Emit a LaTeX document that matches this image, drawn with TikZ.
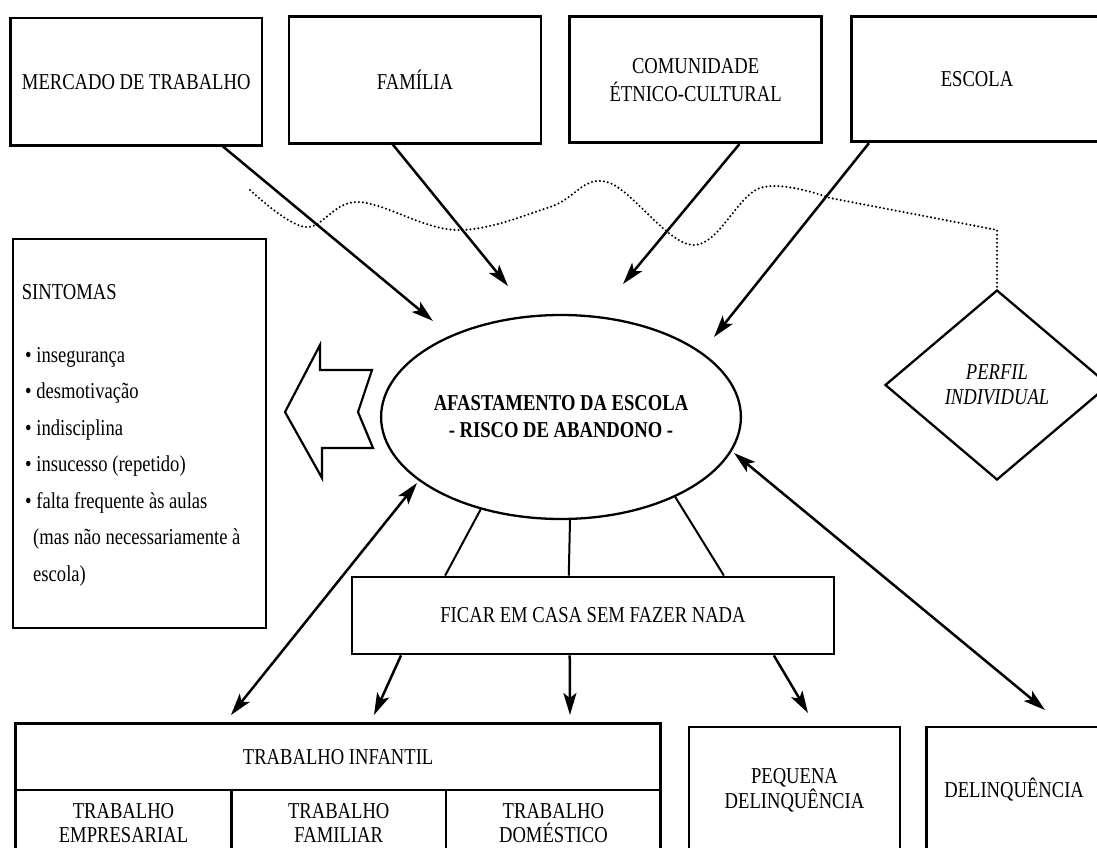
\documentclass[tikz,border=0pt]{standalone}
\usepackage{fontspec}
\setmainfont[FakeStretch=0.82]{Liberation Serif}
\usetikzlibrary{shapes.geometric,arrows.meta,calc}
\newcommand\diafont{\fontsize{22.7}{26}\selectfont}
\begin{document}
\begin{tikzpicture}[x=1pt,y=-1pt,
  box/.style={draw, line width=2.8pt, inner sep=0pt, align=center, font=\diafont},
  arr/.style={line width=2.5pt, -{Stealth[length=22pt,width=13pt,inset=5pt]}},
  darr/.style={line width=2.5pt, {Stealth[length=22pt,width=13pt,inset=5pt]}-{Stealth[length=22pt,width=13pt,inset=5pt]}},
  plainline/.style={line width=2pt},
  item/.style={anchor=base west, inner sep=0pt, font=\diafont},
  dots/.style={line width=2.3pt, line cap=round, dash pattern=on 0pt off 4pt}
]
\useasboundingbox (0,0) rectangle (1097,848);
\fill[white] (0,0) rectangle (1097,848);
\clip (0,0) rectangle (1097,848);

% top boxes
\node[box, minimum width=251.5pt, minimum height=127pt] (merc) at (136.25,81.6) {MERCADO DE TRABALHO};
\node[box, minimum width=252pt, minimum height=126.5pt] (fam) at (415,79.9) {FAMÍLIA};
\node[box, minimum width=252pt, minimum height=126pt, font=\fontsize{22.7}{28}\selectfont] (com) at (695.6,79.7) {COMUNIDADE\\ÉTNICO-CULTURAL};
\node[box, minimum width=251pt, minimum height=125pt] (esc) at (977,79.3) {ESCOLA};

% central ellipse
\node[ellipse, draw, line width=2.3pt, minimum width=337pt, minimum height=204pt, inner sep=0pt,
      align=center, font=\fontsize{22.7}{27}\selectfont\bfseries] (ell) at (561,417)
      {AFASTAMENTO DA ESCOLA\\- RISCO DE ABANDONO -};

% diamond
\node[diamond, draw, line width=2.3pt, minimum width=224pt, minimum height=190pt, inner sep=0pt,
      align=center, font=\fontsize{22.7}{25}\selectfont\itshape] (perf) at (997,385) {PERFIL\\INDIVIDUAL};

% dotted line
\coordinate (dotc) at (997,230);
\draw[dots] plot[smooth, tension=0.6] coordinates {(250,190) (305,227) (358,202) (456,230) (550,207) (607,182) (693,245) (760,188) (830,198)} -- (dotc) -- (perf.north);

% arrows from top boxes
\coordinate (tm) at (433,321);
\coordinate (tf) at (508,286);
\coordinate (tc) at (623,284);
\coordinate (te) at (714,337);
\draw[arr] ($(merc.south west)!0.841!(merc.south east)$) -- (tm);
\draw[arr] ($(fam.south west)!0.413!(fam.south east)$) -- (tf);
\draw[arr] ($(com.south west)!0.672!(com.south east)$) -- (tc);
\draw[arr] ($(esc.south west)!0.074!(esc.south east)$) -- (te);

% sintomas
\node[box, minimum width=253pt, minimum height=389pt] (sint) at (139.5,433.5) {};
\node[item] (s0) at (21.7,299) {SINTOMAS};
\node[item] (s1) at (25,362) {•~insegurança};
\node[item] (s2) at (25,398.5) {•~desmotivação};
\node[item] (s3) at (25,435) {•~indisciplina};
\node[item] (s4) at (25,471.5) {•~insucesso (repetido)};
\node[item] (s5) at (25,508) {•~falta frequente às aulas};
\node[item] (s6) at (33,544.5) {(mas não necessariamente à};
\node[item] (s7) at (33,581) {escola)};

% hollow arrow
\draw[line width=2.2pt, line join=miter] (285,412) -- (320,345) -- (320,370) -- (372,370) -- (358,412)
  -- (373,448) -- (322,448) -- (322,478) -- cycle;

% ficar em casa
\node[box, minimum width=482pt, minimum height=77pt] (fic) at (593,615.5) {FICAR EM CASA SEM FAZER NADA};
\draw[plainline] (ell.-131) -- ($(fic.north west)!0.195!(fic.north east)$);
\draw[plainline] (ell.-85.5) -- ($(fic.north west)!0.450!(fic.north east)$);
\draw[plainline] (ell.-35.3) -- ($(fic.north west)!0.770!(fic.north east)$);

% bottom boxes
\node[box, minimum width=645.3pt, minimum height=66.7pt] (ti) at (338.15,756.65) {TRABALHO INFANTIL};
\node[box, minimum width=216pt, minimum height=66pt, font=\fontsize{22.7}{24}\selectfont] (temp) at (123.5,823) {TRABALHO\\EMPRESARIAL};
\node[box, minimum width=214.5pt, minimum height=66pt, font=\fontsize{22.7}{24}\selectfont] (tfam) at (338.75,823) {TRABALHO\\FAMILIAR};
\node[box, minimum width=214.8pt, minimum height=66pt, font=\fontsize{22.7}{24}\selectfont] (tdom) at (553.4,823) {TRABALHO\\DOMÉSTICO};
\node[box, minimum width=211pt, minimum height=126pt, font=\fontsize{22.7}{25}\selectfont] (peq) at (794.5,790) {PEQUENA\\DELINQUÊNCIA};
\node[box, minimum width=175pt, minimum height=126pt] (delq) at (1014.1,790) {DELINQUÊNCIA};

% arrows from ficar
\coordinate (a1) at (374,715);
\coordinate (a2) at (570,715);
\coordinate (a3) at (808,713);
\draw[arr] ($(fic.south west)!0.104!(fic.south east)$) -- (a1);
\draw[arr] ($(fic.south west)!0.452!(fic.south east)$) -- (a2);
\draw[arr] ($(fic.south west)!0.873!(fic.south east)$) -- (a3);

% double arrows
\coordinate (d1a) at (417,483);
\coordinate (d1b) at (231,715);
\coordinate (d2a) at (734,453);
\coordinate (d2b) at (1045,710);
\draw[darr] (d1b) -- (d1a);
\draw[darr] (d2a) -- (d2b);
\end{tikzpicture}
\end{document}
